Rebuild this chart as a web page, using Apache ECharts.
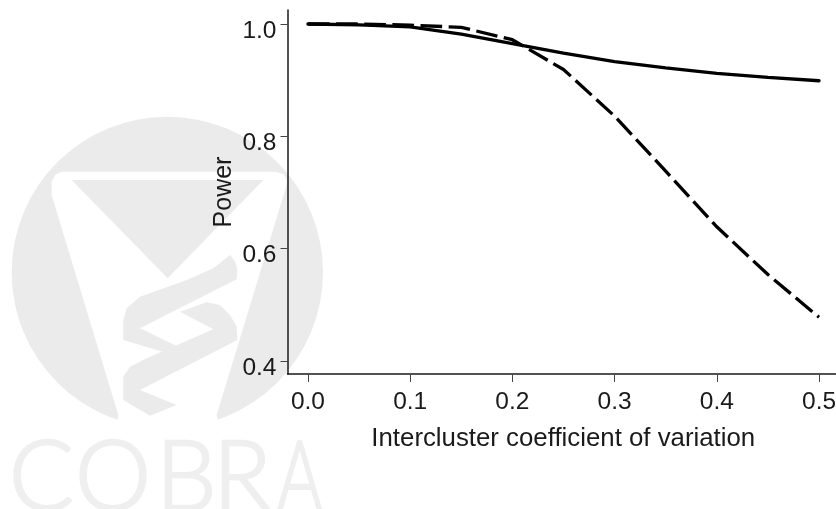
<!DOCTYPE html>
<html><head><meta charset="utf-8">
<style>html,body{margin:0;padding:0;background:#fff}#c{width:836px;height:509px}</style>
<script src="https://cdn.jsdelivr.net/npm/echarts@6/dist/echarts.min.js"></script>
</head><body><div id="c"></div>
<script>
const xValues = [0, 0.05, 0.1, 0.15, 0.2, 0.25, 0.3, 0.35, 0.4, 0.45, 0.5];
const solidPower = [1.0, 0.9985, 0.995, 0.982, 0.965, 0.948, 0.933, 0.922, 0.912, 0.905, 0.899];
const dashedPower = [1.0, 1.0, 0.998, 0.994, 0.972, 0.919, 0.836, 0.738, 0.639, 0.554, 0.478];
const xTicks = [0, 0.1, 0.2, 0.3, 0.4, 0.5];
const yTicks = [0.4, 0.6, 0.8, 1.0];
const xTitle = 'Intercluster coefficient of variation';
const yTitle = 'Power';
const wmLetters = ['C', 'O', 'B', 'R', 'A'];
const wmLetterX = [9, 75, 156, 213, 277];
const wmLetterScale = [1, 1, 1, 1, 0.72];

const ink = '#1a1a1a', wm = '#ebebeb', wm2 = '#efefef';
const font = '"Liberation Sans", Arial, sans-serif';
const zip = a => xValues.map((x, i) => [x, a[i]]);

const logo = {
  type: 'group', x: 0, y: 100, scaleX: 1 / 3, scaleY: 1 / 3, silent: true,
  children: [
    { type: 'circle', shape: { cx: 502, cy: 517, r: 467 }, style: { fill: wm } },
    { type: 'polygon', shape: { points: [[185,215],[825,215],[850,222],[860,240],[858,262],[650,945],[665,1010],[340,1010],[355,945],[155,285],[155,245],[165,225]] }, style: { fill: '#fff' } },
    { type: 'polygon', shape: { points: [[215, 240], [790, 240], [503, 535]] }, style: { fill: wm } }
  ]
};
const snake = {
  type: 'group', x: 110, y: 240, scaleX: 1 / 3, scaleY: 1 / 3, silent: true,
  children: [
    { type: 'polygon', shape: { points: [[360,45],[376,65],[382,90],[380,118],[90,265],[200,318],[190,345],[40,300],[40,240],[50,205],[90,170],[230,120],[310,85]] }, style: { fill: wm } },
    { type: 'polygon', shape: { points: [[210,215],[290,187],[330,195],[360,225],[380,260],[382,300],[90,450],[200,495],[120,527],[40,480],[40,410],[60,380],[110,355],[310,268]] }, style: { fill: wm } }
  ]
};
const letters = wmLetters.map((t, i) => ({
  type: 'text', x: wmLetterX[i], y: 431, scaleX: wmLetterScale[i], silent: true,
  style: { text: t, fill: wm2, stroke: wm2, lineWidth: 2.5, font: '300 96px Lato', verticalAlign: 'top' }
}));

const chart = echarts.init(document.getElementById('c'), null, { renderer: 'canvas' });
chart.setOption({
  animation: false,
  backgroundColor: 'transparent',
  graphic: { z: -1, elements: [logo, snake, ...letters] },
  grid: { left: 287.5, right: 0, top: 10, bottom: 135, outerBoundsMode: 'none' },
  xAxis: {
    type: 'value', min: -0.02, max: 0.5166, position: 'bottom',
    name: xTitle, nameLocation: 'middle', nameGap: 52, nameMoveOverlap: false,
    nameTextStyle: { fontFamily: font, fontSize: 25.8, color: ink, padding: [0, 0, 0, 3] },
    axisLine: { onZero: false, lineStyle: { color: ink, width: 1.5 } },
    axisTick: { show: true, length: 8, customValues: xTicks, lineStyle: { color: '#444', width: 1 } },
    axisLabel: { show: true, customValues: xTicks, margin: 16, fontFamily: font, fontSize: 24.5, color: ink, formatter: v => v.toFixed(1) },
    splitLine: { show: false }
  },
  yAxis: {
    type: 'value', min: 0.377, max: 1.0249,
    name: yTitle, nameLocation: 'middle', nameGap: 51, nameMoveOverlap: false,
    nameTextStyle: { fontFamily: font, fontSize: 25, color: ink },
    axisLine: { onZero: false, lineStyle: { color: ink, width: 1.5 } },
    axisTick: { show: true, length: 7, customValues: yTicks, lineStyle: { color: '#444', width: 1 } },
    axisLabel: { show: true, customValues: yTicks, margin: 11, verticalAlign: 'top', lineHeight: 14, fontFamily: font, fontSize: 24.5, color: ink, formatter: v => v.toFixed(1) },
    splitLine: { show: false }
  },
  series: [
    { name: 'Solid', type: 'line', data: zip(solidPower), showSymbol: false, smooth: false, z: 3,
      lineStyle: { color: '#000', width: 3.3, cap: 'round' } },
    { name: 'Dashed', type: 'line', data: zip(dashedPower), showSymbol: false, smooth: false, z: 3,
      lineStyle: { color: '#000', width: 3.3, type: [21.65, 6.5] } }
  ]
});
</script></body></html>
